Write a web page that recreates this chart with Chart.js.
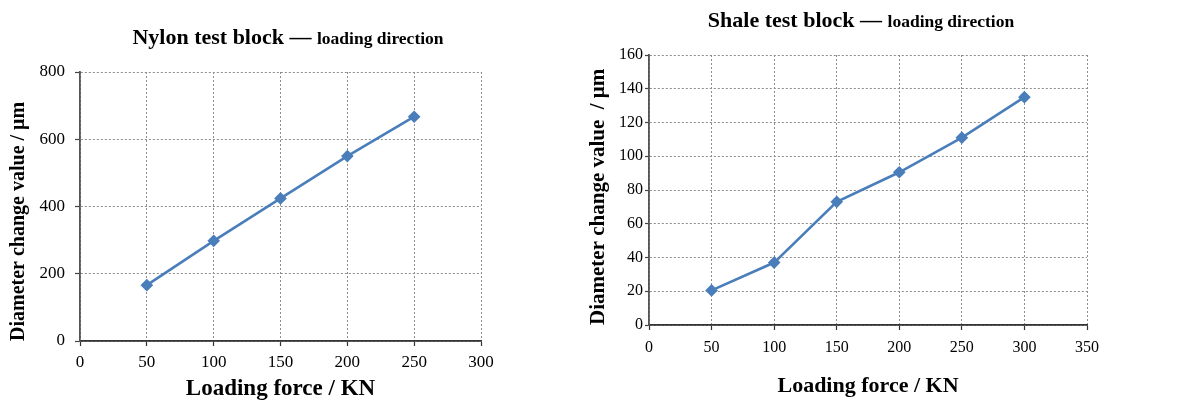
<!DOCTYPE html>
<html>
<head>
<meta charset="utf-8">
<script src="https://cdn.jsdelivr.net/npm/chart.js@4.4.0/dist/chart.umd.min.js"></script>
<style>
  html, body { margin: 0; padding: 0; background: #fff; }
  #wrap { position: relative; width: 1182px; height: 403px; overflow: hidden; }
  .box { position: absolute; top: 0; height: 403px; }
  .ttl { position: absolute; width: 500px; text-align: center; white-space: nowrap;
         font-family: 'Liberation Serif', 'Times New Roman', serif; font-weight: bold;
         line-height: 22px; color: #000; }
  .ttl .big { font-size: 22px; }
  .ttl .small { font-size: 17.5px; }
</style>
</head>
<body>
<div id="wrap">
  <div class="box" style="left:0;width:540px"><canvas id="nylonChart"></canvas></div>
  <div class="box" style="left:560px;width:622px"><canvas id="shaleChart"></canvas></div>
  <div class="ttl" style="left:38px;top:25.6px"><span class="big">Nylon test block — </span><span class="small">loading direction</span></div>
  <div class="ttl" style="left:611px;top:8.6px"><span class="big">Shale test block — </span><span class="small">loading direction</span></div>
</div>
<script>
// 数据
const nylonForce = [50, 100, 150, 200, 250];
const nylonDiameter = [166, 298, 424, 550, 667];
const shaleForce = [50, 100, 150, 200, 250, 300];
const shaleDiameter = [20.5, 37, 73, 90.5, 111, 135];

const xTitle = 'Loading force / KN';
const nylonYTitle = 'Diameter change value / μm';
const shaleYTitle = 'Diameter change value  / μm';

const serif = "'Liberation Serif', 'Times New Roman', serif";
const lineColor = '#4A7EBB';

Chart.defaults.font.family = serif;
Chart.defaults.color = '#000';

function makeChart(id, xs, ys, o) {
  return new Chart(document.getElementById(id), {
    type: 'line',
    data: {
      datasets: [{
        data: xs.map((x, i) => ({ x: x, y: ys[i] })),
        borderColor: lineColor,
        backgroundColor: lineColor,
        borderWidth: 2.6,
        pointStyle: 'rectRot',
        pointRadius: 4.5,
        pointHoverRadius: 4.5,
        tension: 0
      }]
    },
    options: {
      responsive: false,
      animation: false,
      events: [],
      layout: { padding: o.padding },
      plugins: { legend: { display: false }, tooltip: { enabled: false } },
      scales: {
        x: {
          type: 'linear',
          min: 0,
          max: o.xMax,
          afterFit: s => { s.height = o.xHeight; },
          ticks: { stepSize: 50, padding: o.xTickPad, font: { size: o.tickSize } },
          grid: {
            color: '#8c8c8c',
            tickLength: 5,
            tickColor: '#333',
            tickBorderDash: [],
            tickWidth: 1.2
          },
          // v4: border.dash 作用于网格线
          border: { color: '#333', width: 1.8, dash: [2, 2] },
          title: {
            display: true,
            text: xTitle,
            font: { size: o.xTitleSize, weight: 'bold' },
            padding: { top: 0, bottom: o.xTitlePad }
          }
        },
        y: {
          min: 0,
          max: o.yMax,
          afterFit: s => { s.width = o.yWidth; },
          ticks: { stepSize: o.yStep, padding: o.yTickPad, font: { size: o.tickSize } },
          grid: {
            color: '#8c8c8c',
            tickLength: o.yTickLen,
            tickColor: '#444',
            tickBorderDash: [],
            tickWidth: 1.2
          },
          border: { color: '#555', width: 1.8, dash: [2, 2] },
          title: {
            display: true,
            text: o.yTitle,
            align: 'start',
            font: { size: o.yTitleSize, weight: 'bold' },
            padding: { top: o.yTitlePad, bottom: 0 }
          }
        }
      }
    }
  });
}

const c1 = document.getElementById('nylonChart');
c1.width = 540; c1.height = 403;
c1.style.width = '540px'; c1.style.height = '403px';
makeChart('nylonChart', nylonForce, nylonDiameter, {
  padding: { top: 72, right: 59, left: 0, bottom: 0 },
  xMax: 300, yMax: 800, yStep: 200,
  xHeight: 62, yWidth: 80,
  tickSize: 17, xTickPad: 6, yTickPad: 10, yTickLen: 5,
  xTitleSize: 23, xTitlePad: 0,
  yTitle: nylonYTitle, yTitleSize: 20, yTitlePad: 7
});

const c2 = document.getElementById('shaleChart');
c2.width = 622; c2.height = 403;
c2.style.width = '622px'; c2.style.height = '403px';
makeChart('shaleChart', shaleForce, shaleDiameter, {
  padding: { top: 55, right: 95, left: 0, bottom: 0 },
  xMax: 350, yMax: 160, yStep: 20,
  xHeight: 78, yWidth: 89,
  tickSize: 16, xTickPad: 8, yTickPad: 2, yTickLen: 4,
  xTitleSize: 22, xTitlePad: 3,
  yTitle: shaleYTitle, yTitleSize: 21, yTitlePad: 26
});
</script>
</body>
</html>
